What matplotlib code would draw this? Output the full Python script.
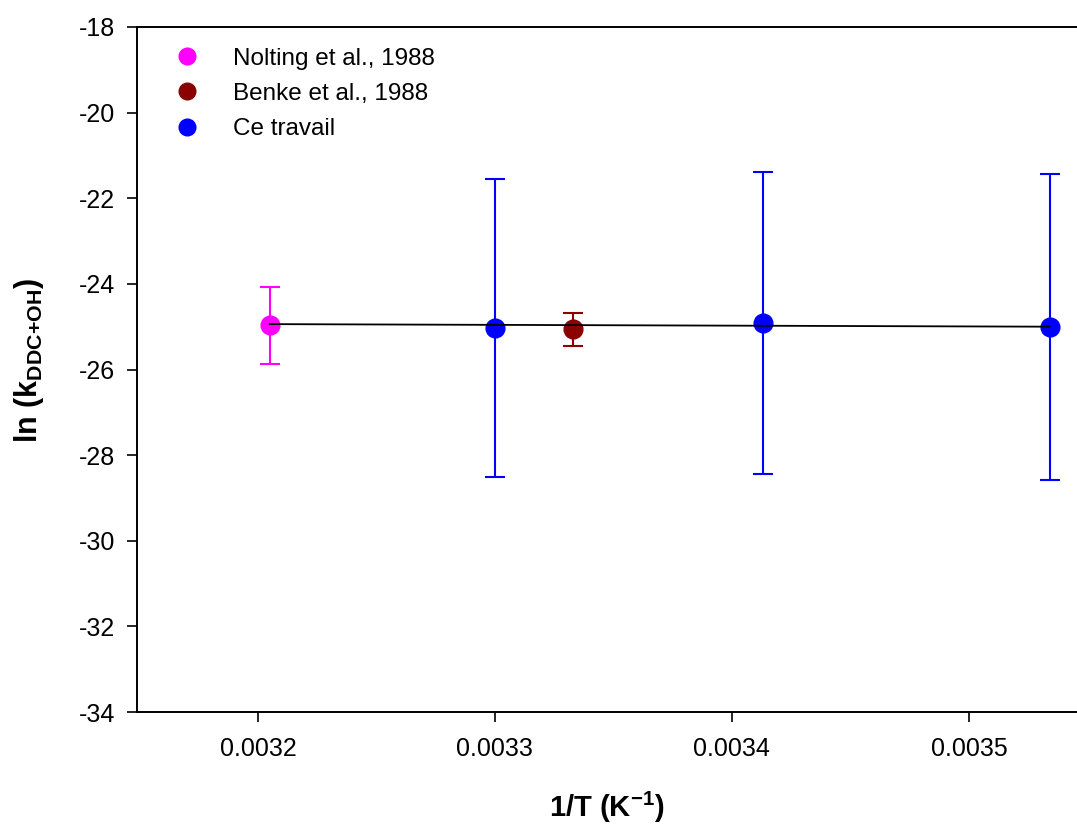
import matplotlib
matplotlib.use('Agg')
import matplotlib.pyplot as plt
from matplotlib.lines import Line2D

plt.rcParams['font.family'] = ['Liberation Sans', 'DejaVu Sans']
plt.rcParams['axes.unicode_minus'] = False
plt.rcParams['mathtext.fontset'] = 'custom'
plt.rcParams['mathtext.rm'] = 'Liberation Sans'
plt.rcParams['mathtext.bf'] = 'Liberation Sans:bold'

# données
nolting_x = [0.003205]
nolting_y = [-24.97]
nolting_err = [0.89]

benke_x = [0.003333]
benke_y = [-25.06]
benke_err = [0.39]

travail_x = [0.003300, 0.003413, 0.003534]
travail_y = [-25.03, -24.91, -25.01]
travail_err = [3.47, 3.53, 3.58]

# droite de régression (extrémités)
fit_x = [0.003205, 0.003534]
fit_y = [-24.94, -25.00]

fig = plt.figure(figsize=(10.77, 8.25), dpi=100)
ax = fig.add_axes([137/1077, 113/825, 1 - 137/1077, 685/825])

kw = dict(fmt='o', markersize=13.5, elinewidth=1.5, capsize=7.5, capthick=1.5, zorder=2)
ax.errorbar(nolting_x, nolting_y, yerr=nolting_err, color='#ff00ff', ecolor='#ff00ff', **kw)
ax.errorbar(benke_x, benke_y, yerr=benke_err, color='#8b0000', ecolor='#8b0000', **kw)
ax.errorbar(travail_x, travail_y, yerr=travail_err, color='#0000ff', ecolor='#0000ff', **kw)
ax.plot(fit_x, fit_y, color='black', lw=1.3, zorder=3)

ax.set_xlim(0.003149, 0.0035456)
ax.set_ylim(-34, -18)
ax.set_xticks([0.0032, 0.0033, 0.0034, 0.0035])
ax.set_xticklabels(['0.0032', '0.0033', '0.0034', '0.0035'])
ax.set_yticks(range(-34, -17, 2))

ax.spines['right'].set_visible(False)
for s in ['left', 'bottom', 'top']:
    ax.spines[s].set_linewidth(1.4)
ax.tick_params(axis='both', direction='out', length=7, width=1.2, labelsize=18)
ax.tick_params(axis='x', pad=11)
ax.tick_params(axis='y', pad=9)

ax.set_xlabel(r'1/T (K$^{\mathbf{-1}}$)', fontsize=21, fontweight='bold')
ax.set_ylabel(r'ln (k$_{\mathbf{DDC{+}OH}}$)', fontsize=22, fontweight='bold')
ax.xaxis.set_label_coords(0.5, -0.114)
ax.yaxis.set_label_coords(-0.097, 0.514)

handles = [
    Line2D([], [], ls='none', marker='o', markersize=12, color='#ff00ff'),
    Line2D([], [], ls='none', marker='o', markersize=12, color='#8b0000'),
    Line2D([], [], ls='none', marker='o', markersize=12, color='#0000ff'),
]
labels = ['Nolting et al., 1988', 'Benke et al., 1988', 'Ce travail']
ax.legend(handles, labels, loc='upper left', bbox_to_anchor=(0.04, 0.97), frameon=False,
          borderaxespad=0, borderpad=0, handlelength=1.0, handletextpad=1.4,
          labelspacing=0.55, fontsize=17.5)

fig.savefig('out.png', dpi=100)
